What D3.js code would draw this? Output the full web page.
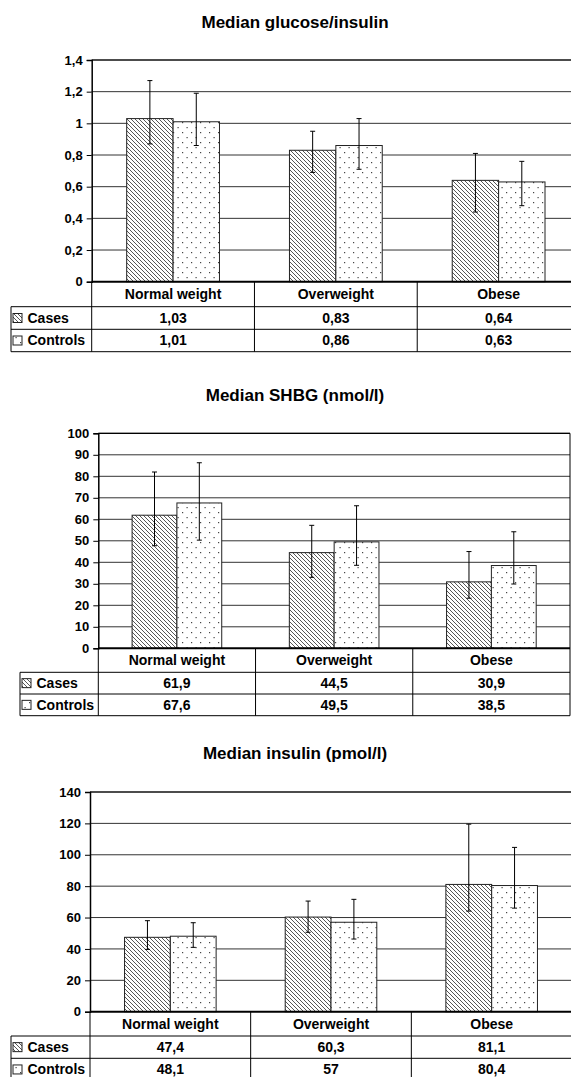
<!DOCTYPE html>
<html>
<head>
<meta charset="utf-8">
<script src="https://cdn.jsdelivr.net/npm/d3@7"></script>
<style>
  body { margin: 0; background: #fff; }
  svg { display: block; font-family: "Liberation Sans", Arial, sans-serif; font-weight: bold; }
</style>
</head>
<body>
<div id="chart"></div>
<script>
// categories and series
var categories = ["Normal weight", "Overweight", "Obese"];
var seriesNames = ["Cases", "Controls"];

// Median glucose/insulin
var glucoseCases = [1.03, 0.83, 0.64];
var glucoseControls = [1.01, 0.86, 0.63];
var glucoseCasesLow = [0.87, 0.69, 0.44];
var glucoseCasesHigh = [1.27, 0.95, 0.81];
var glucoseControlsLow = [0.86, 0.71, 0.48];
var glucoseControlsHigh = [1.19, 1.03, 0.76];
var glucoseTicks = [0, 0.2, 0.4, 0.6, 0.8, 1, 1.2, 1.4];
var glucoseCasesLabels = ["1,03", "0,83", "0,64"];
var glucoseControlsLabels = ["1,01", "0,86", "0,63"];

// Median SHBG
var shbgCases = [61.9, 44.5, 30.9];
var shbgControls = [67.6, 49.5, 38.5];
var shbgCasesLow = [47.7, 33.0, 23.3];
var shbgCasesHigh = [82.0, 57.2, 45.0];
var shbgControlsLow = [50.3, 38.6, 29.9];
var shbgControlsHigh = [86.3, 66.3, 54.2];
var shbgTicks = [0, 10, 20, 30, 40, 50, 60, 70, 80, 90, 100];
var shbgCasesLabels = ["61,9", "44,5", "30,9"];
var shbgControlsLabels = ["67,6", "49,5", "38,5"];

// Median insulin
var insulinCases = [47.4, 60.3, 81.1];
var insulinControls = [48.1, 57, 80.4];
var insulinCasesLow = [39.7, 50.6, 64.1];
var insulinCasesHigh = [58.0, 70.5, 119.5];
var insulinControlsLow = [41.0, 46.3, 66.0];
var insulinControlsHigh = [56.7, 71.6, 104.7];
var insulinTicks = [0, 20, 40, 60, 80, 100, 120, 140];
var insulinCasesLabels = ["47,4", "60,3", "81,1"];
var insulinControlsLabels = ["48,1", "57", "80,4"];

var W = 571, H = 1077;

var svg = d3.select("#chart").append("svg")
  .attr("width", W)
  .attr("height", H);

// fill patterns
var defs = svg.append("defs");
var hatch = defs.append("pattern")
  .attr("id", "hatch")
  .attr("patternUnits", "userSpaceOnUse")
  .attr("width", 4).attr("height", 4);
hatch.append("rect").attr("width", 4).attr("height", 4).attr("fill", "#fff");
hatch.append("path")
  .attr("d", "M-1,-1 L5,5 M-1,3 L1,5 M3,-1 L5,1")
  .attr("stroke", "#444")
  .attr("stroke-width", 0.9);

var dots = defs.append("pattern")
  .attr("id", "dots")
  .attr("patternUnits", "userSpaceOnUse")
  .attr("width", 9).attr("height", 10);
dots.append("rect").attr("width", 9).attr("height", 10).attr("fill", "#fff");
dots.append("rect").attr("x", 2).attr("y", 2).attr("width", 1.2).attr("height", 1.2).attr("fill", "#444");
dots.append("rect").attr("x", 6.5).attr("y", 7).attr("width", 1.2).attr("height", 1.2).attr("fill", "#444");

var fills = ["url(#hatch)", "url(#dots)"];

function commaFmt(v) {
  return String(+v.toFixed(1)).replace(".", ",");
}

function drawPanel(p) {
  var g = svg.append("g");

  g.append("text")
    .attr("x", 295)
    .attr("y", p.titleY)
    .attr("dy", "0.35em")
    .attr("text-anchor", "middle")
    .style("font-size", "17px")
    .text(p.title);

  var y = d3.scaleLinear()
    .domain([0, p.max])
    .range([p.zero, p.top]);

  var x0 = d3.scaleBand()
    .domain(categories)
    .range([p.left, p.right])
    .padding(0);

  var groupW = x0.bandwidth() * 0.57;
  var x1 = d3.scaleBand()
    .domain(seriesNames)
    .range([0, groupW]);
  var off = (x0.bandwidth() - groupW) / 2;

  // gridlines
  g.append("g")
    .selectAll("line")
    .data(p.ticks.slice(1))
    .join("line")
    .attr("x1", p.left).attr("x2", p.right)
    .attr("y1", d => y(d)).attr("y2", d => y(d))
    .attr("stroke", "#333")
    .attr("stroke-width", 1);

  // y axis
  var axis = g.append("g")
    .attr("transform", `translate(${p.left},0)`)
    .call(d3.axisLeft(y).tickValues(p.ticks).tickSize(5).tickPadding(4).tickFormat(commaFmt));
  axis.select(".domain").attr("stroke", "#000").attr("stroke-width", 1.5);
  axis.selectAll(".tick line").attr("stroke", "#000");
  axis.selectAll(".tick text")
    .attr("fill", "#000")
    .style("font-size", "13px")
    .style("font-family", "'Liberation Sans', Arial, sans-serif")
    .style("font-weight", "bold");

  // right border
  g.append("line")
    .attr("x1", p.right).attr("x2", p.right)
    .attr("y1", p.top).attr("y2", p.rows[2])
    .attr("stroke", "#000");

  // bars
  var series = [
    { name: "Cases", vals: p.cases, lo: p.casesLow, hi: p.casesHigh },
    { name: "Controls", vals: p.controls, lo: p.controlsLow, hi: p.controlsHigh }
  ];

  series.forEach(function(s, si) {
    var sg = g.append("g");
    sg.selectAll("rect")
      .data(categories)
      .join("rect")
      .attr("x", c => x0(c) + off + x1(s.name))
      .attr("y", (c, i) => y(s.vals[i]))
      .attr("width", x1.bandwidth())
      .attr("height", (c, i) => y(0) - y(s.vals[i]))
      .attr("fill", fills[si])
      .attr("stroke", "#222")
      .attr("stroke-width", 1);

    // error bars
    var eb = sg.selectAll("g.err")
      .data(categories)
      .join("g")
      .attr("class", "err")
      .attr("transform", c => `translate(${x0(c) + off + x1(s.name) + x1.bandwidth() / 2},0)`);
    eb.append("line")
      .attr("y1", (c, i) => y(s.lo[i]))
      .attr("y2", (c, i) => y(s.hi[i]))
      .attr("stroke", "#000");
    eb.append("line")
      .attr("x1", -2.5).attr("x2", 2.5)
      .attr("y1", (c, i) => y(s.hi[i])).attr("y2", (c, i) => y(s.hi[i]))
      .attr("stroke", "#000");
    eb.append("line")
      .attr("x1", -2.5).attr("x2", 2.5)
      .attr("y1", (c, i) => y(s.lo[i])).attr("y2", (c, i) => y(s.lo[i]))
      .attr("stroke", "#000");
  });

  // top border and zero line
  g.append("line")
    .attr("x1", p.left).attr("x2", p.right)
    .attr("y1", p.top).attr("y2", p.top)
    .attr("stroke", "#000").attr("stroke-width", 1.2);
  g.append("line")
    .attr("x1", p.left).attr("x2", p.right)
    .attr("y1", p.zero).attr("y2", p.zero)
    .attr("stroke", "#000").attr("stroke-width", 2);

  // data table
  var t = g.append("g");
  var rowTops = [p.zero, p.rows[0], p.rows[1]];
  var rowBots = p.rows;

  // vertical lines: axis line down through table, category separators
  var seps = categories.map(c => x0(c)).slice(1);
  t.append("line")
    .attr("x1", p.left).attr("x2", p.left)
    .attr("y1", p.zero).attr("y2", p.rows[2])
    .attr("stroke", "#000");
  t.selectAll("line.sep")
    .data(seps)
    .join("line")
    .attr("class", "sep")
    .attr("x1", d => d).attr("x2", d => d)
    .attr("y1", p.zero).attr("y2", p.rows[2])
    .attr("stroke", "#000");
  // legend column left border
  t.append("line")
    .attr("x1", p.legendLeft).attr("x2", p.legendLeft)
    .attr("y1", p.rows[0]).attr("y2", p.rows[2])
    .attr("stroke", "#000");
  // horizontal lines
  t.selectAll("line.hr")
    .data(p.rows)
    .join("line")
    .attr("class", "hr")
    .attr("x1", p.legendLeft).attr("x2", p.right)
    .attr("y1", d => d).attr("y2", d => d)
    .attr("stroke", "#000");

  // header text
  t.selectAll("text.cat")
    .data(categories)
    .join("text")
    .attr("class", "cat")
    .attr("x", c => x0(c) + x0.bandwidth() / 2)
    .attr("y", (rowTops[0] + rowBots[0]) / 2)
    .attr("dy", "0.35em")
    .attr("text-anchor", "middle")
    .style("font-size", "14px")
    .text(c => c);

  var labelRows = [p.casesLabels, p.controlsLabels];
  labelRows.forEach(function(labels, ri) {
    var cy = (rowTops[ri + 1] + rowBots[ri + 1]) / 2;
    t.selectAll("text.v" + ri)
      .data(labels)
      .join("text")
      .attr("class", "v" + ri)
      .attr("x", (d, i) => x0(categories[i]) + x0.bandwidth() / 2)
      .attr("y", cy)
      .attr("dy", "0.35em")
      .attr("text-anchor", "middle")
      .style("font-size", "14px")
      .text(d => d);

    // legend key and name
    t.append("rect")
      .attr("x", p.legendLeft + 2)
      .attr("y", cy - 4.5)
      .attr("width", 9).attr("height", 9)
      .attr("fill", fills[ri])
      .attr("stroke", "#222");
    t.append("text")
      .attr("x", p.legendLeft + 16.5)
      .attr("y", cy)
      .attr("dy", "0.35em")
      .style("font-size", "14px")
      .text(seriesNames[ri]);
  });
}

drawPanel({
  title: "Median glucose/insulin", titleY: 22,
  left: 91.7, right: 580, top: 60, zero: 281.7, max: 1.4,
  rows: [306.7, 329.3, 351.7], legendLeft: 11,
  ticks: glucoseTicks,
  cases: glucoseCases, controls: glucoseControls,
  casesLow: glucoseCasesLow, casesHigh: glucoseCasesHigh,
  controlsLow: glucoseControlsLow, controlsHigh: glucoseControlsHigh,
  casesLabels: glucoseCasesLabels, controlsLabels: glucoseControlsLabels
});

drawPanel({
  title: "Median SHBG (nmol/l)", titleY: 395,
  left: 98.3, right: 570, top: 433.3, zero: 648.3, max: 100,
  rows: [672.3, 694, 715.7], legendLeft: 20,
  ticks: shbgTicks,
  cases: shbgCases, controls: shbgControls,
  casesLow: shbgCasesLow, casesHigh: shbgCasesHigh,
  controlsLow: shbgControlsLow, controlsHigh: shbgControlsHigh,
  casesLabels: shbgCasesLabels, controlsLabels: shbgControlsLabels
});

drawPanel({
  title: "Median insulin (pmol/l)", titleY: 753,
  left: 90, right: 572, top: 792, zero: 1011.7, max: 140,
  rows: [1036, 1058.3, 1080.6], legendLeft: 11,
  ticks: insulinTicks,
  cases: insulinCases, controls: insulinControls,
  casesLow: insulinCasesLow, casesHigh: insulinCasesHigh,
  controlsLow: insulinControlsLow, controlsHigh: insulinControlsHigh,
  casesLabels: insulinCasesLabels, controlsLabels: insulinControlsLabels
});
</script>
</body>
</html>
